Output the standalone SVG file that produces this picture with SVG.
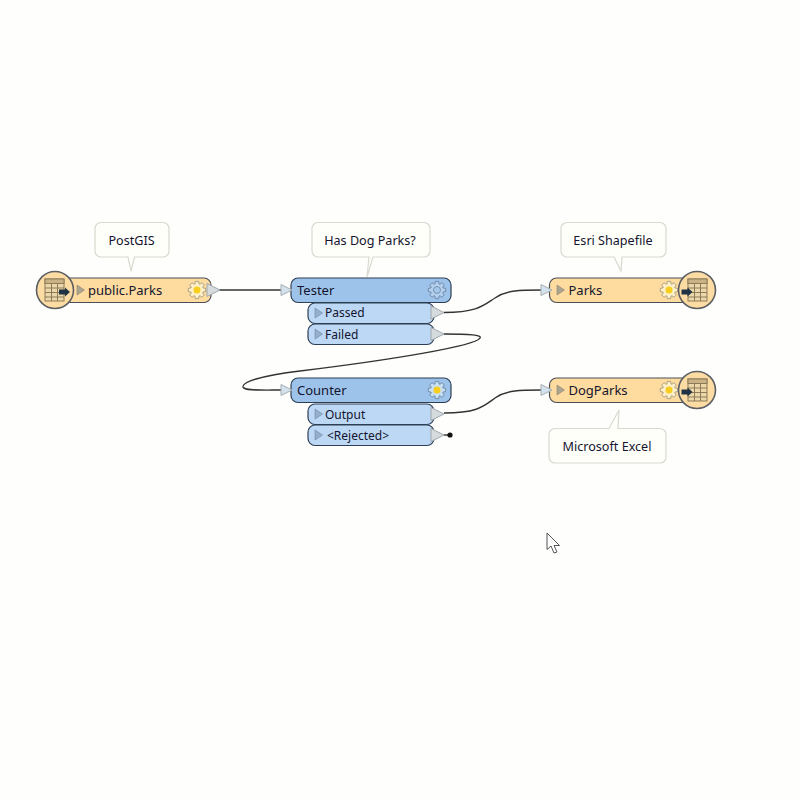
<svg xmlns="http://www.w3.org/2000/svg" width="800" height="800" viewBox="0 0 800 800">
<style>
text{font-family:"Noto Sans","Liberation Sans",sans-serif;fill:#14142e}
.t{font-size:13px}.s{font-size:12px}.b{font-size:12.600px}
.bub{fill:#fffffa;stroke:#d9d9d0;stroke-width:1.200}
.ft{fill:#fedb9e;stroke:#4a5058;stroke-width:1.200}
.tr{fill:#9dc3ea;stroke:#2d3f55;stroke-width:1.200}
.pt{fill:#bcd8f5;stroke:#2d3f55;stroke-width:1.200}
.wire{fill:none;stroke:#333;stroke-width:1.400}
.in{fill:#d4e2ee;stroke:#a4adb2;stroke-width:1}
.out{fill:#d6dbde;stroke:#a0a7ab;stroke-width:1}
.tri{fill:#aca48e;stroke:#8a8570;stroke-width:.6}
.tri2{fill:#94aecb;stroke:#6f86a2;stroke-width:.6}
.gear{stroke-width:.9;stroke-linejoin:round}
.disc{fill:#fcdca2;stroke:#5c6064;stroke-width:1.600}
.grid{fill:#ecd7aa;stroke:#8c7a58;stroke-width:1}
</style>
<defs>
<path id="gear" class="gear" d="M-1.680-8.640L1.680-8.640 1.980-6.090 2.910-5.700 4.920-7.300 7.300-4.920 5.700-2.910 6.090-1.980 8.640-1.680 8.640 1.680 6.090 1.980 5.700 2.910 7.300 4.920 4.920 7.300 2.910 5.700 1.980 6.090 1.680 8.640-1.680 8.640-1.980 6.090-2.910 5.700-4.920 7.300-7.300 4.920-5.700 2.910-6.090 1.980-8.640 1.680-8.640-1.680-6.090-1.980-5.700-2.910-7.300-4.920-4.920-7.300-2.910-5.700-1.980-6.090z"/>
<g id="grid">
<rect class="grid" x="-9.500" y="-11" width="19" height="22"/>
<rect x="-9.500" y="-11" width="19" height="4.500" fill="#c9b286" stroke="#8c7a58" stroke-width="1"/>
<path d="M-9.500-2H9.500M-9.500 2.500H9.500M-9.500 7H9.500M-3-6.500V11M3-6.500V11" fill="none" stroke="#8c7a58" stroke-width="1"/>
</g>
<path id="arrow" d="M-5.500-2.500H.5V-4.500L5.500 0 .5 4.500V2.500H-5.500z" fill="#1f3345"/>
<path id="inport" class="in" d="M0-5.500L11 0 0 5.500z"/>
<path id="outport" class="out" d="M0-6.500L13 0 0 6.500z"/>
<path id="ptri" d="M0-5L7.500 0 0 5z"/>
</defs>
<rect width="800" height="800" fill="#fefefc"/>

<g id="connectors">
<path class="wire" d="M218 290H282"/>
<path class="wire" d="M444 312.500C478 312.500 484 305 495 298C507 290 520 290 542 290"/>
<path class="wire" d="M444 334C470 334 482 335 480 338C476 346 390 360 300 371C260 376 242 382 243 387C244 391 262 390 282 390"/>
<path class="wire" d="M444 413C478 413 484 406 495 398C507 390 520 390 542 390"/>
<path class="wire" d="M444 435H450"/>
<circle cx="450" cy="435" r="2.600" fill="#111"/>
</g>

<g id="bubble-postgis">
<path class="bub" d="M101 222.500H163a6 6 0 0 1 6 6V251a6 6 0 0 1-6 6H134.500L131 271 128 257H101a6 6 0 0 1-6-6V228.500a6 6 0 0 1 6-6z"/>
<text class="b" x="131.500" y="245" text-anchor="middle">PostGIS</text>
</g>
<g id="bubble-tester">
<path class="bub" d="M318 222.500H424a6 6 0 0 1 6 6V251a6 6 0 0 1-6 6H373L367 277 369 257H318a6 6 0 0 1-6-6V228.500a6 6 0 0 1 6-6z"/>
<text class="b" x="370" y="245" text-anchor="middle">Has Dog Parks?</text>
</g>
<g id="bubble-shape">
<path class="bub" d="M567 222.500H660a6 6 0 0 1 6 6V251a6 6 0 0 1-6 6H622L621 271 614 257H567a6 6 0 0 1-6-6V228.500a6 6 0 0 1 6-6z"/>
<text class="b" x="613" y="245" text-anchor="middle">Esri Shapefile</text>
</g>
<g id="bubble-excel">
<path class="bub" d="M555 428.500H609L619 410 618 428.500H660a6 6 0 0 1 6 6V457a6 6 0 0 1-6 6H555a6 6 0 0 1-6-6V434.500a6 6 0 0 1 6-6z"/>
<text class="b" x="607" y="451" text-anchor="middle">Microsoft Excel</text>
</g>

<g id="reader-parks">
<rect class="ft" x="62" y="278" width="149" height="24.500" rx="7"/>
<use href="#ptri" x="77" y="290" class="tri"/>
<text class="t" x="88" y="295">public.Parks</text>
<use href="#gear" x="197" y="290" fill="#fff0c8" stroke="#a09a80"/>
<circle cx="197" cy="290" r="3.500" fill="#f7cd1e"/>
<use href="#outport" x="207" y="290"/>
<circle class="disc" cx="55" cy="290" r="18.500"/>
<use href="#grid" x="54.500" y="290"/>
<use href="#arrow" x="64.500" y="292"/>
</g>

<g id="tester">
<rect class="tr" x="291" y="278" width="160" height="24.500" rx="7"/>
<text class="t" x="297" y="295">Tester</text>
<use href="#gear" x="437" y="290" fill="#b5d0ee" stroke="#6a85a5"/>
<circle cx="437" cy="290" r="3.500" fill="#a6c8ea" stroke="#6a85a5" stroke-width=".8"/>
<use href="#inport" x="281" y="290"/>
</g>
<g id="tester-passed">
<rect class="pt" x="308" y="303" width="126" height="20.500" rx="7"/>
<use href="#ptri" x="315" y="313" class="tri2"/>
<text class="s" x="325" y="317">Passed</text>
<use href="#outport" x="431" y="312.500"/>
</g>
<g id="tester-failed">
<rect class="pt" x="308" y="324" width="126" height="20.500" rx="7"/>
<use href="#ptri" x="315" y="334" class="tri2"/>
<text class="s" x="325" y="338.500">Failed</text>
<use href="#outport" x="431" y="334"/>
</g>

<g id="counter">
<rect class="tr" x="291" y="378" width="160" height="24.500" rx="7"/>
<text class="t" x="297" y="395">Counter</text>
<use href="#gear" x="437" y="390" fill="#c9dff2" stroke="#6a85a5"/>
<circle cx="437" cy="390" r="3.500" fill="#f7cd1e"/>
<use href="#inport" x="281" y="390"/>
</g>
<g id="counter-output">
<rect class="pt" x="308" y="404" width="126" height="20.500" rx="7"/>
<use href="#ptri" x="315" y="414" class="tri2"/>
<text class="s" x="325" y="418.500">Output</text>
<use href="#outport" x="431" y="414"/>
</g>
<g id="counter-rejected">
<rect class="pt" x="308" y="425" width="126" height="20.500" rx="7"/>
<use href="#ptri" x="315" y="435" class="tri2"/>
<text class="s" x="327" y="440">&lt;Rejected&gt;</text>
<use href="#outport" x="431" y="435"/>
</g>

<g id="writer-parks">
<rect class="ft" x="549.500" y="278" width="140" height="24.500" rx="7"/>
<use href="#ptri" x="557" y="290" class="tri"/>
<text class="t" x="568.500" y="295">Parks</text>
<use href="#gear" x="669" y="290" fill="#fff0c8" stroke="#a09a80"/>
<circle cx="669" cy="290" r="3.500" fill="#f7cd1e"/>
<use href="#inport" x="541" y="290"/>
<circle class="disc" cx="697" cy="290" r="18.500"/>
<use href="#grid" x="697.500" y="290"/>
<use href="#arrow" x="687" y="292"/>
</g>

<g id="writer-dogparks">
<rect class="ft" x="549.500" y="378" width="140" height="24.500" rx="7"/>
<use href="#ptri" x="557" y="390" class="tri"/>
<text class="t" x="568.500" y="395">DogParks</text>
<use href="#gear" x="669" y="390" fill="#fff0c8" stroke="#a09a80"/>
<circle cx="669" cy="390" r="3.500" fill="#f7cd1e"/>
<use href="#inport" x="541" y="390"/>
<circle class="disc" cx="697" cy="390" r="18.500"/>
<use href="#grid" x="697.500" y="390"/>
<use href="#arrow" x="687" y="392"/>
</g>

<path id="cursor" d="M547 533V549.500L551 546 554 553 557 552 554 545.500 559.500 545.500z" fill="#fff" stroke="#555" stroke-width="1"/>
</svg>
